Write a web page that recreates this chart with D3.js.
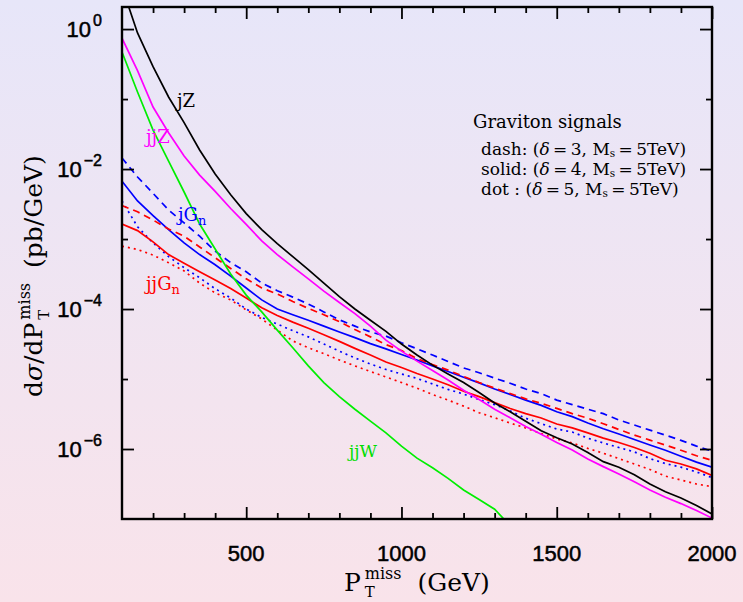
<!DOCTYPE html>
<html><head><meta charset="utf-8">
<script src="https://cdn.jsdelivr.net/npm/d3@7"></script>
<style>html,body{margin:0;padding:0;background:#fff}svg{display:block}</style>
</head><body>
<svg id="chart" width="743" height="602"></svg>
<script>
// ---------------- data ----------------
const ptMiss = [100,150,200,250,300,350,400,450,500,550,600,650,700,750,800,850,900,950,1000,
  1050,1100,1150,1200,1250,1300,1350,1400,1450,1500,1550,1600,1650,1700,1750,1800,1850,1900,1950,2000];

const jZ = [4.0,0.88,0.29,0.107,0.046,0.0187,0.0085,0.0043,0.00231,0.00136,8.6e-4,5.6e-4,3.66e-4,2.34e-4,1.5e-4,1.0e-4,6.9e-5,4.8e-5,3.16e-5,
  2.2e-5,1.58e-5,1.18e-5,8.9e-6,6.4e-6,4.55e-6,3.4e-6,2.5e-6,1.82e-6,1.45e-6,1.18e-6,8.9e-7,6.6e-7,5.5e-7,4.3e-7,3.16e-7,2.45e-7,2.0e-7,1.56e-7,1.18e-7];
const jjZ = [0.74,0.255,0.077,0.033,0.0154,0.0082,0.0048,0.00273,0.00162,9.4e-4,6.0e-4,4.0e-4,2.7e-4,1.8e-4,1.24e-4,8.6e-5,5.7e-5,3.6e-5,2.5e-5,
  1.8e-5,1.32e-5,9.7e-6,6.9e-6,5.1e-6,3.7e-6,2.8e-6,2.1e-6,1.63e-6,1.24e-6,9.7e-7,7.2e-7,5.6e-7,4.4e-7,3.4e-7,2.6e-7,2.05e-7,1.66e-7,1.32e-7,1.03e-7];
const jjW = [0.47,0.126,0.036,0.013,0.0047,0.00164,7.2e-4,3.16e-4,1.58e-4,9.1e-5,5.0e-5,2.8e-5,1.54e-5,8.9e-6,5.6e-6,3.7e-6,2.5e-6,1.7e-6,1.1e-6,
  7.4e-7,5.4e-7,3.8e-7,2.6e-7,1.9e-7,1.38e-7,8e-8,null,null,null,null,null,null,null,null,null,null,null,null,null];
const jGn_d3 = [0.0144,0.0077,0.0045,0.0026,0.0017,1.1e-3,6.7e-4,4.6e-4,3.4e-4,2.35e-4,1.83e-4,1.48e-4,1.18e-4,9.1e-5,7.0e-5,5.7e-5,4.7e-5,4.1e-5,3.3e-5,
  2.7e-5,2.2e-5,1.78e-5,1.44e-5,1.23e-5,1.03e-5,8.7e-6,7.2e-6,6.2e-6,5.0e-6,4.3e-6,3.7e-6,3.2e-6,2.6e-6,2.2e-6,1.86e-6,1.58e-6,1.33e-6,1.1e-6,9.3e-7];
const jGn_d4 = [0.0067,0.0035,0.00216,0.00136,8.8e-4,6.0e-4,4.3e-4,2.95e-4,2.0e-4,1.35e-4,1.0e-4,8.3e-5,6.9e-5,5.7e-5,4.7e-5,3.9e-5,3.2e-5,2.7e-5,2.24e-5,
  1.87e-5,1.54e-5,1.28e-5,1.06e-5,8.8e-6,7.2e-6,6.0e-6,5.0e-6,4.2e-6,3.4e-6,2.9e-6,2.35e-6,1.95e-6,1.64e-6,1.37e-6,1.14e-6,9.6e-7,7.9e-7,6.5e-7,5.5e-7];
const jGn_d5 = [0.0035,0.0015,8.8e-4,5.6e-4,3.9e-4,2.8e-4,1.95e-4,1.44e-4,1.0e-4,7.6e-5,6.1e-5,4.9e-5,4.0e-5,3.16e-5,2.5e-5,2.0e-5,1.64e-5,1.37e-5,1.18e-5,
  1.02e-5,8.5e-6,7.1e-6,6.1e-6,5.1e-6,4.3e-6,3.5e-6,2.75e-6,2.3e-6,1.93e-6,1.75e-6,1.43e-6,1.22e-6,1.05e-6,9.1e-7,7.3e-7,6.2e-7,5.5e-7,4.7e-7,3.9e-7];
const jjGn_d3 = [0.0030,0.00245,0.00187,0.00139,0.0011,7.7e-4,5.4e-4,3.8e-4,2.7e-4,2.0e-4,1.64e-4,1.28e-4,1.02e-4,8.3e-5,6.6e-5,5.1e-5,4.0e-5,3.1e-5,2.56e-5,
  1.96e-5,1.61e-5,1.34e-5,1.09e-5,8.9e-6,7.4e-6,6.2e-6,5.2e-6,4.5e-6,3.8e-6,3.2e-6,2.75e-6,2.3e-6,1.9e-6,1.58e-6,1.34e-6,1.14e-6,9.6e-7,8.0e-7,6.9e-7];
const jjGn_d4 = [0.00164,0.00132,9.1e-4,6.0e-4,4.5e-4,3.4e-4,2.6e-4,1.96e-4,1.44e-4,1.04e-4,8.1e-5,6.5e-5,5.3e-5,4.3e-5,3.45e-5,2.74e-5,2.2e-5,1.75e-5,1.46e-5,
  1.2e-5,1.0e-5,8.3e-6,6.7e-6,5.6e-6,4.6e-6,3.8e-6,3.2e-6,2.77e-6,2.28e-6,2.0e-6,1.7e-6,1.43e-6,1.24e-6,1.05e-6,8.7e-7,6.9e-7,6.1e-7,5.2e-7,4.2e-7];
const jjGn_d5 = [7.9e-4,7.1e-4,5.9e-4,4.6e-4,3.5e-4,2.35e-4,1.7e-4,1.35e-4,9.7e-5,7.2e-5,5.0e-5,3.5e-5,2.8e-5,2.3e-5,1.87e-5,1.54e-5,1.28e-5,1.07e-5,8.9e-6,
  7.4e-6,6.0e-6,5.0e-6,4.1e-6,3.3e-6,2.8e-6,2.35e-6,2.0e-6,1.66e-6,1.39e-6,1.22e-6,1.02e-6,8.7e-7,7.3e-7,6.1e-7,5.1e-7,4.1e-7,3.6e-7,3.16e-7,2.9e-7];

const xMajorTicks = [500,1000,1500,2000];
const xMinorTicks = [200,300,400,600,700,800,900,1100,1200,1300,1400,1600,1700,1800,1900];
const yMajorTicks = [1,1e-2,1e-4,1e-6];
const yMinorTicks = [1e-1,1e-3,1e-5];
const yTickExp = ["0","\u22122","\u22124","\u22126"];
const xTickLabels = ["500","1000","1500","2000"];

const legendTitle = "Graviton signals";
const legendRows = [["dash: (", "\u03b4", "\u2009=\u20093, M", "s", "\u2009=\u20095TeV)"],
                    ["solid: (", "\u03b4", "\u2009=\u20094, M", "s", "\u2009=\u20095TeV)"],
                    ["dot : (", "\u03b4", "\u2009=\u20095, M", "s", "\u2009=\u20095TeV)"]];

// ---------------- setup ----------------
const svg = d3.select("#chart");
const X0 = 122, X1 = 712, Y0 = 7, Y1 = 519;
const x = d3.scaleLinear().domain([100, 2000]).range([X0, X1]);
const y = d3.scaleLog().domain([1e-7, 2]).range([Y1, 8]);

const defs = svg.append("defs");
const grad = defs.append("linearGradient").attr("id","bg").attr("x1",0).attr("y1",0).attr("x2",0).attr("y2",1);
grad.append("stop").attr("offset","0%").attr("stop-color","#e7e6f9");
grad.append("stop").attr("offset","100%").attr("stop-color","#f9e3ea");
defs.append("clipPath").attr("id","clip").append("rect")
  .attr("x",X0).attr("y",Y0).attr("width",X1-X0).attr("height",Y1-Y0);

svg.append("rect").attr("width",743).attr("height",602).attr("fill","url(#bg)");

// ---------------- curves ----------------
const series = [
  {v: jjGn_d5, c:"#ff0000", dash:"2,4"},
  {v: jGn_d5,  c:"#0000ff", dash:"2,4"},
  {v: jjGn_d4, c:"#ff0000", dash:null},
  {v: jGn_d4,  c:"#0000ff", dash:null},
  {v: jjGn_d3, c:"#ff0000", dash:"7,5"},
  {v: jGn_d3,  c:"#0000ff", dash:"7,5"},
  {v: jjW,     c:"#00ee00", dash:null},
  {v: jjZ,     c:"#ff00ff", dash:null},
  {v: jZ,      c:"#000000", dash:null}
];
const line = d3.line()
  .defined(d => d[1] != null)
  .x(d => x(d[0])).y(d => y(d[1]));
const plot = svg.append("g").attr("clip-path","url(#clip)");
series.forEach(s => {
  plot.append("path")
    .datum(ptMiss.map((p,i) => [p, s.v[i]]))
    .attr("d", line)
    .attr("fill","none")
    .attr("stroke", s.c)
    .attr("stroke-width", 1.7)
    .attr("stroke-dasharray", s.dash);
});

// ---------------- axes ----------------
function styleAxis(g){ g.select(".domain").remove(); g.selectAll("line").attr("stroke","#000").attr("stroke-width",1.8); g.selectAll("text").remove(); }
svg.append("g").attr("transform",`translate(0,${Y1})`).call(d3.axisBottom(x).tickValues(xMajorTicks).tickSize(-12)).call(styleAxis);
svg.append("g").attr("transform",`translate(0,${Y1})`).call(d3.axisBottom(x).tickValues(xMinorTicks).tickSize(-6)).call(styleAxis);
svg.append("g").attr("transform",`translate(0,${Y0})`).call(d3.axisTop(x).tickValues(xMajorTicks).tickSize(-12)).call(styleAxis);
svg.append("g").attr("transform",`translate(0,${Y0})`).call(d3.axisTop(x).tickValues(xMinorTicks).tickSize(-6)).call(styleAxis);
svg.append("g").attr("transform",`translate(${X0},0)`).call(d3.axisLeft(y).tickValues(yMajorTicks).tickSize(-12)).call(styleAxis);
svg.append("g").attr("transform",`translate(${X0},0)`).call(d3.axisLeft(y).tickValues(yMinorTicks).tickSize(-6)).call(styleAxis);
svg.append("g").attr("transform",`translate(${X1},0)`).call(d3.axisRight(y).tickValues(yMajorTicks).tickSize(-12)).call(styleAxis);
svg.append("g").attr("transform",`translate(${X1},0)`).call(d3.axisRight(y).tickValues(yMinorTicks).tickSize(-6)).call(styleAxis);

svg.append("rect").attr("x",X0).attr("y",Y0).attr("width",X1-X0).attr("height",Y1-Y0)
  .attr("fill","none").attr("stroke","#000").attr("stroke-width",2.4);

// tick labels
const tickFont = "'Liberation Sans', Arial, sans-serif";
svg.append("g").selectAll("text").data(xMajorTicks).join("text")
  .attr("x", d => x(d)).attr("y", 561)
  .attr("text-anchor","middle")
  .style("font-family", tickFont).style("font-size","22px").style("fill","#000")
  .style("stroke","#000").style("stroke-width","0.5px")
  .text((d,i) => xTickLabels[i]);

const yl = svg.append("g").selectAll("text").data(yMajorTicks).join("text")
  .attr("x", 102).attr("y", d => y(d) + 8)
  .attr("text-anchor","end")
  .style("font-family", tickFont).style("font-size","22px").style("fill","#000")
  .style("stroke","#000").style("stroke-width","0.5px");
yl.append("tspan").text("10");
yl.append("tspan").attr("dx",2).attr("dy",-11).style("font-size","16px").text((d,i) => yTickExp[i]);

// rich label helper (supports stacked sub/superscripts)
function richLabel(parent, parts, font, color) {
  const grp = parent.append("g");
  let prevStart = 0, maxEnd = 0;
  parts.forEach(p => {
    const start = p.stack ? prevStart : maxEnd + (p.gap || 0);
    const el = grp.append("text").attr("x", start).attr("y", p.dy || 0)
      .style("font-family", font).style("font-size", p.size + "px")
      .style("font-style", p.italic ? "italic" : "normal")
      .style("fill", color || "#000").text(p.t);
    const w = el.node().getComputedTextLength();
    prevStart = start;
    maxEnd = Math.max(maxEnd, start + w);
  });
  return grp;
}
const serif = "'DejaVu Serif', serif";

// x title
richLabel(svg.append("g").attr("transform","translate(344,591)"), [
  {t:"P", size:25},
  {t:"miss", size:16, dy:-12, gap:4},
  {t:"T", size:15, dy:6, stack:true},
  {t:"(GeV)", size:25, gap:16}
], serif);

// y title
richLabel(svg.append("g").attr("transform","translate(42,397) rotate(-90)"), [
  {t:"d", size:25},
  {t:"\u03c3", size:25, italic:true},
  {t:"/dP", size:25},
  {t:"miss", size:16, dy:-12, gap:3},
  {t:"T", size:15, dy:7, stack:true},
  {t:"(pb/GeV)", size:25, gap:15}
], serif);

// curve labels
function curveLabel(px, py, parts, color) {
  richLabel(svg.append("g").attr("transform",`translate(${px},${py})`), parts, serif, color);
}
curveLabel(177, 107, [{t:"jZ", size:18}], "#000");
curveLabel(146, 143, [{t:"jjZ", size:18}], "#ff00ff");
curveLabel(178, 221, [{t:"jG", size:18}, {t:"n", size:13, dy:4}], "#0000ff");
curveLabel(146, 290, [{t:"jjG", size:18}, {t:"n", size:13, dy:4}], "#ff0000");
curveLabel(349, 457, [{t:"jjW", size:17}], "#00dd00");

// legend
svg.append("text").attr("x",473).attr("y",128)
  .style("font-family",serif).style("font-size","18px").text(legendTitle);
legendRows.forEach((r,i) => {
  richLabel(svg.append("g").attr("transform",`translate(481,${155 + i*20})`), [
    {t:r[0], size:17},
    {t:r[1], size:17, italic:true},
    {t:r[2], size:17},
    {t:r[3], size:10.5, dy:2},
    {t:r[4], size:17}
  ], serif, "#000");
});
</script>
</body></html>
